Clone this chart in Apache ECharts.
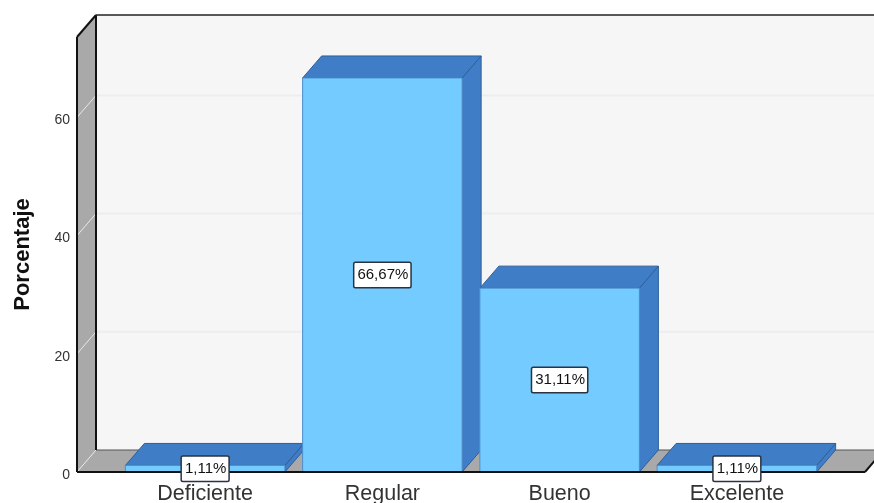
<!DOCTYPE html>
<html>
<head>
<meta charset="utf-8">
<style>html,body{margin:0;padding:0;background:#fff}#c{width:874px;height:503px}</style>
<script src="https://cdn.jsdelivr.net/npm/echarts@6/dist/echarts.min.js"></script>
</head>
<body>
<div id="c"></div>
<script>
const categories = ['Deficiente', 'Regular', 'Bueno', 'Excelente'];
const values = [1.11, 66.67, 31.11, 1.11];
const valueLabels = ['1,11%', '66,67%', '31,11%', '1,11%'];
const yTicks = [0, 20, 40, 60];
const yTop = 73.6;
const yAxisTitle = 'Porcentaje';

const DX = 19, DY = -22, PAD = 39.5;
const FRONT = '#73CBFF', DARK = '#3F7EC6', EDGE = '#2F5F9A';
const font = '"Liberation Sans", Arial, sans-serif';

const chart = echarts.init(document.getElementById('c'), null, {renderer: 'canvas'});

function poly(points, fill, stroke, lw) {
  return {type: 'polygon', shape: {points}, style: {fill, stroke: stroke || null, lineWidth: lw || 0}};
}
function line(a, b, stroke, lw) {
  return {type: 'line', shape: {x1: a[0], y1: a[1], x2: b[0], y2: b[1]}, style: {stroke, lineWidth: lw}};
}

function renderWalls(params, api) {
  const cs = params.coordSys;
  const L = cs.x - PAD, R = cs.x + cs.width + PAD;
  const y0 = api.coord([0, 0])[1], yT = api.coord([0, yTop])[1];
  const ch = [
    poly([[L + DX, yT + DY], [R + DX, yT + DY], [R + DX, y0 + DY], [L + DX, y0 + DY]], '#F6F6F6'),
    poly([[L, yT], [L + DX, yT + DY], [L + DX, y0 + DY], [L, y0]], '#A9A9A9'),
    poly([[L, y0], [L + DX, y0 + DY], [R + DX, y0 + DY], [R, y0]], '#A9A9A9')
  ];
  yTicks.forEach(t => {
    const y = api.coord([0, t])[1];
    if (t > 0) ch.push(line([L + DX, y + DY], [R + DX, y + DY], '#EDEDED', 2));
    ch.push(line([L, y], [L + DX, y + DY], '#E8E8E8', 1));
  });
  ch.push(line([L + DX, y0 + DY], [R + DX, y0 + DY], '#555', 1));
  ch.push(line([L, yT], [L, y0], '#111', 2));
  ch.push(line([L + DX, yT + DY], [L + DX, y0 + DY], '#111', 2));
  ch.push(line([L, yT], [L + DX, yT + DY], '#111', 2));
  ch.push(line([L + DX, yT + DY], [R + DX, yT + DY], '#222', 1.5));
  ch.push(line([R, y0], [R + DX, y0 + DY], '#111', 2));
  return {type: 'group', children: ch};
}

function renderBar(params, api) {
  const i = api.value(0), v = api.value(1);
  const c = api.coord([i, 0]), t = api.coord([i, v]);
  const w = api.size([1, 0])[0] * 0.9;
  const l = c[0] - w / 2, r = c[0] + w / 2, b = c[1], h = t[1];
  return {type: 'group', children: [
    poly([[r, h], [r + DX, h + DY], [r + DX, b + DY], [r, b]], DARK, EDGE, 1),
    poly([[l, h], [l + DX, h + DY], [r + DX, h + DY], [r, h]], DARK, EDGE, 1),
    poly([[l, h], [r, h], [r, b], [l, b]], FRONT, '#4E8FCB', 1)
  ]};
}

function renderBaseline(params, api) {
  const cs = params.coordSys;
  const y0 = api.coord([0, 0])[1];
  return line([cs.x - PAD, y0], [cs.x + cs.width + PAD, y0], '#111', 2);
}

function renderLabel(params, api) {
  const i = api.value(0), v = api.value(1);
  const p = api.coord([i, v / 2]);
  return {
    type: 'text',
    style: {
      x: p[0], y: p[1], text: valueLabels[params.dataIndex],
      align: 'center', verticalAlign: 'middle',
      font: '15px ' + font, fill: '#111',
      backgroundColor: '#fff', borderColor: '#2A3340', borderWidth: 1.5, borderRadius: 1,
      padding: [5, 2, 4, 3]
    }
  };
}

const barData = values.map((v, i) => [i, v]);

chart.setOption({
  animation: false,
  backgroundColor: '#fff',
  grid: {left: 116.5, width: 709, top: 37, bottom: 31, outerBoundsMode: 'none'},
  xAxis: {
    type: 'category', data: categories,
    axisLine: {show: false}, axisTick: {show: false}, splitLine: {show: false},
    axisLabel: {color: '#333', fontFamily: font, fontSize: 21.5, margin: 11, interval: 0}
  },
  yAxis: {
    type: 'value', min: 0, max: yTop, interval: 20, offset: PAD,
    axisLine: {show: false}, axisTick: {show: false}, splitLine: {show: false},
    axisLabel: {
      margin: 7, showMaxLabel: false, formatter: '{t|{value}}',
      rich: {t: {color: '#333', fontFamily: font, fontSize: 14, padding: [6, 0, 0, 0]}}
    },
    name: yAxisTitle, nameLocation: 'middle', nameRotate: 90, nameGap: 43,
    nameTextStyle: {color: '#111', fontFamily: font, fontSize: 22, fontWeight: 'bold'}
  },
  series: [
    {type: 'custom', coordinateSystem: 'cartesian2d', clip: false, silent: true, z: 1,
     renderItem: renderWalls, data: [[0, 0]]},
    {type: 'custom', coordinateSystem: 'cartesian2d', clip: false, silent: true, z: 2,
     renderItem: renderBar, data: barData},
    {type: 'custom', coordinateSystem: 'cartesian2d', clip: false, silent: true, z: 3,
     renderItem: renderBaseline, data: [[0, 0]]},
    {type: 'custom', coordinateSystem: 'cartesian2d', clip: false, silent: true, z: 10,
     renderItem: renderLabel, data: barData}
  ]
});
</script>
</body>
</html>
